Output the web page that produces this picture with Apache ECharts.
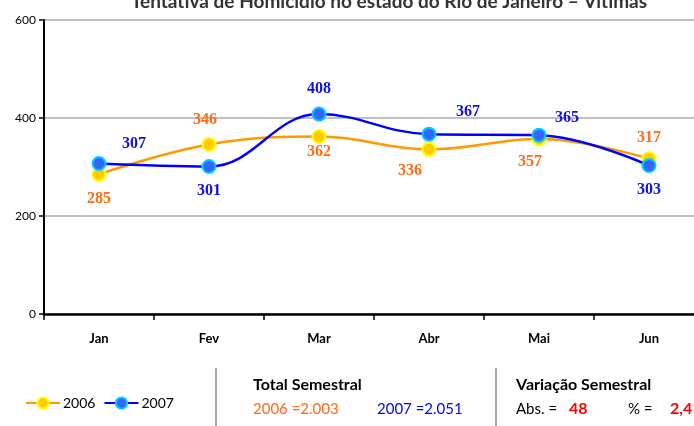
<!DOCTYPE html>
<html>
<head>
<meta charset="utf-8">
<script src="https://cdn.jsdelivr.net/npm/echarts@6/dist/echarts.min.js"></script>
<style>
  html, body { margin: 0; padding: 0; background: #fff; }
  #chart { width: 694px; height: 426px; }
</style>
</head>
<body>
<div id="chart"></div>
<script>
var months = ['Jan', 'Fev', 'Mar', 'Abr', 'Mai', 'Jun'];
var yTicks = [0, 200, 400, 600];
var values2006 = [285, 346, 362, 336, 357, 317];
var values2007 = [307, 301, 408, 367, 365, 303];
var total2006 = '2.003';
var total2007 = '2.051';
var varAbs = '48';
var varPct = '2,4';

// where each value label sits relative to its point
var place2006 = [[0, 25], [-4, -25], [0, 15], [-19, 21], [-9, 23], [0, -21]];
var place2007 = [[35, -20], [0, 24], [0, -25], [39, -22], [28, -17], [0, 24]];

window.onload = function() {
    var chart = echarts.init(document.getElementById('chart'));
    var labelFont = 'Liberation Serif';
    var textFont = 'Lato';

    function withLabels(vals, place, color) {
        return vals.map(function(v, i) {
            return {
                value: v,
                label: {
                    show: true,
                    position: 'inside',
                    offset: place[i],
                    color: color,
                    fontFamily: labelFont,
                    fontWeight: 'bold',
                    fontSize: 16
                }
            };
        });
    }

    var option = {
        animation: false,
        title: {
            text: 'Tentativa de Homicídio no estado do Rio de Janeiro \u2013 Vítimas',
            left: 384,
            textAlign: 'center',
            top: -13,
            textStyle: { fontFamily: textFont, fontSize: 19, fontWeight: 'bold', color: '#333' }
        },
        legend: {
            left: 20,
            top: 391,
            itemWidth: 34,
            itemHeight: 14,
            itemGap: 8,
            textStyle: { fontFamily: textFont, fontSize: 14, color: '#000', padding: [0, 0, 0, -2] },
            data: ['2006', '2007']
        },
        grid: { left: 44, width: 660, top: 20, bottom: 112, outerBoundsMode: 'none', containLabel: false },
        xAxis: {
            type: 'category',
            data: months,
            boundaryGap: true,
            axisLine: { lineStyle: { color: '#000', width: 2.5 } },
            axisTick: { show: true, length: 6, lineStyle: { color: '#000', width: 1.5 } },
            axisLabel: { margin: 18, fontFamily: textFont, fontWeight: 'bold', fontSize: 13, color: '#000' }
        },
        yAxis: {
            type: 'value',
            min: yTicks[0],
            max: yTicks[yTicks.length - 1],
            interval: 200,
            axisLine: { show: true, lineStyle: { color: '#000', width: 2 } },
            axisTick: { show: true, length: 5, lineStyle: { color: '#000', width: 1.5 } },
            axisLabel: { margin: 8, fontFamily: textFont, fontSize: 12, color: '#000' },
            splitLine: { lineStyle: { color: '#c0c0c0', width: 2 } }
        },
        series: [{
            name: '2006',
            type: 'line',
            smooth: 0.4,
            symbol: 'circle',
            symbolSize: 13,
            lineStyle: { color: '#ff9900', width: 2.5 },
            itemStyle: { color: '#ffcc00', borderColor: '#ffff00', borderWidth: 2 },
            data: withLabels(values2006, place2006, '#ff6a13'),
            z: 2
        }, {
            name: '2007',
            type: 'line',
            smooth: 0.4,
            symbol: 'circle',
            symbolSize: 13,
            lineStyle: { color: '#0000ff', width: 2.5 },
            itemStyle: { color: '#3366ff', borderColor: '#00ccff', borderWidth: 2 },
            data: withLabels(values2007, place2007, '#1010e0'),
            z: 3
        }],
        graphic: [
            { type: 'line', shape: { x1: 216, y1: 368, x2: 216, y2: 426 }, style: { stroke: '#aaa', lineWidth: 2 } },
            { type: 'line', shape: { x1: 496, y1: 368, x2: 496, y2: 426 }, style: { stroke: '#aaa', lineWidth: 2 } },
            { type: 'text', left: 253, top: 377, style: { text: 'Total Semestral', font: 'bold 16px Lato', fill: '#000' } },
            { type: 'text', left: 253, top: 402, style: { text: '2006 =' + total2006, font: '15px Lato', fill: '#ff6a13' } },
            { type: 'text', left: 377, top: 402, style: { text: '2007 =' + total2007, font: '15px Lato', fill: '#0000ff' } },
            { type: 'text', left: 516, top: 377, style: { text: 'Variação Semestral', font: 'bold 16px Lato', fill: '#000' } },
            { type: 'text', left: 516, top: 402, style: { text: 'Abs. =', font: '15px Lato', fill: '#000' } },
            { type: 'text', left: 569, top: 401, style: { text: varAbs, font: 'bold 16px Lato', fill: '#ff0000' } },
            { type: 'text', left: 628, top: 402, style: { text: '% =', font: '15px Lato', fill: '#000' } },
            { type: 'text', left: 670, top: 401, style: { text: varPct, font: 'bold 16px Lato', fill: '#ff0000' } }
        ]
    };

    chart.setOption(option);
};
</script>
</body>
</html>
